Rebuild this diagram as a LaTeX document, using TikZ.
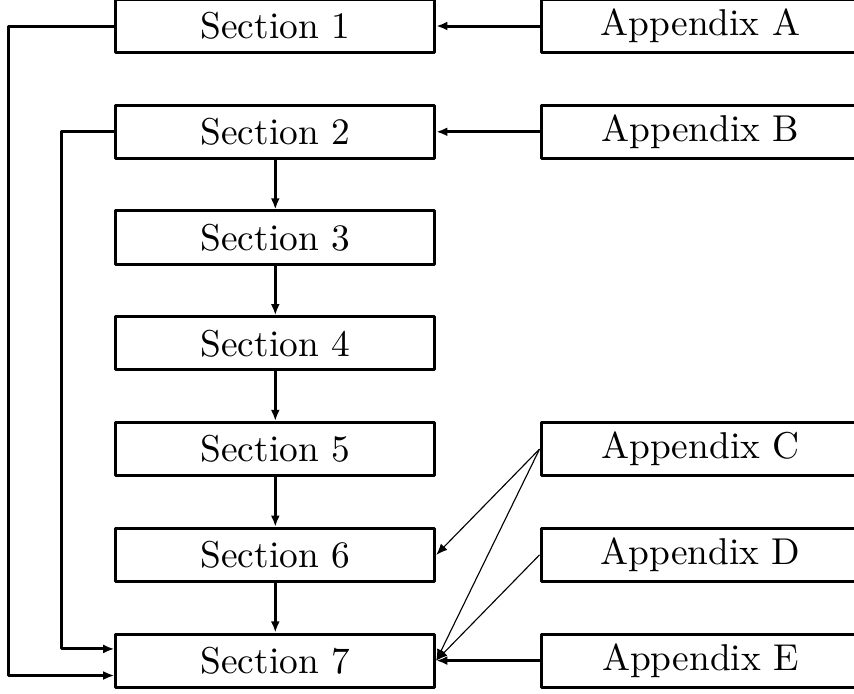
\documentclass[tikz,border=0pt]{standalone}
\usetikzlibrary{arrows.meta}

\tikzset{
  secbox/.style={draw,rectangle,minimum width=3cm,minimum height=0.5cm,inner sep=0pt},
  appbox/.style={secbox},
  weak/.style={line width=0.3pt}
}

\begin{document}
\begin{tikzpicture}[thick,line join=round,>={Latex[length=3pt,width=2.4pt]}]
                \useasboundingbox (0,0) rectangle (8.034,-6.529);
                \node[secbox] (s1) at (2.59,-0.245) {Section 1};
                \node[secbox] (s2) at (2.59,-1.24) {Section 2};
                \node[secbox] (s3) at (2.59,-2.235) {Section 3};
                \node[secbox] (s4) at (2.59,-3.23) {Section 4};
                \node[secbox] (s5) at (2.59,-4.225) {Section 5};
                \node[secbox] (s6) at (2.59,-5.22) {Section 6};
                \node[secbox] (s7) at (2.59,-6.215) {Section 7};
                \node[appbox] (aA) at (6.59,-0.245) {Appendix A};
                \node[appbox] (aB) at (6.59,-1.24) {Appendix B};
                \node[appbox] (aC) at (6.59,-4.225) {Appendix C};
                \node[appbox] (aD) at (6.59,-5.22) {Appendix D};
                \node[appbox] (aE) at (6.59,-6.215) {Appendix E};
                % main chain
                \draw[->] (s2)--(s3);
                \draw[->] (s3)--(s4);
                \draw[->] (s4)--(s5);
                \draw[->] (s5)--(s6);
                \draw[->] (s6)--(s7);
                % long way round on the left
                \draw[->] (s1.west) -| ([xshift=-1cm,yshift=-0.14cm]s7.west) -- ([yshift=-0.14cm]s7.west);
                \draw[->] (s2.west) -| ([xshift=-0.5cm,yshift=0.11cm]s7.west) -- ([yshift=0.11cm]s7.west);
                % appendices
                \draw[->] (aA)--(s1);
                \draw[->] (aB)--(s2);
                \draw[->,weak] (aC.west)--(s6.east);
                \draw[->,weak] (aC.west)--(s7.east);
                \draw[->,weak] (aD.west)--(s7.east);
                \draw[->] (aE)--(s7);
              \end{tikzpicture}
\end{document}
